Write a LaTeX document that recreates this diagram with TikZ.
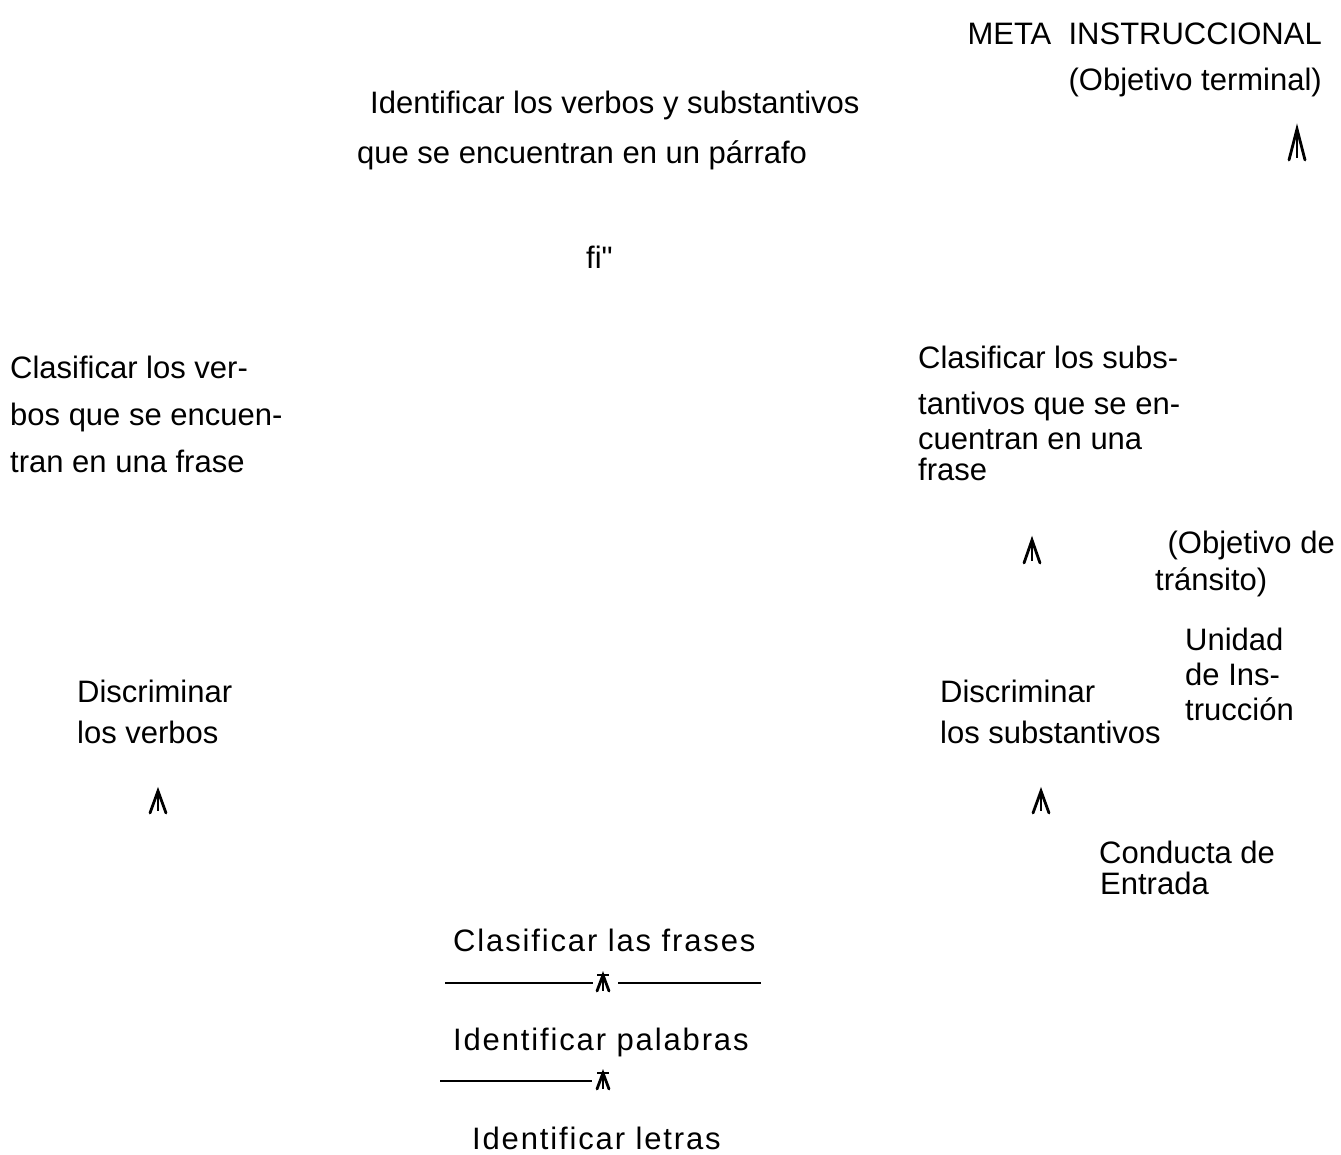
\documentclass[tikz,border=0pt]{standalone}
\usepackage{fontspec}
\setmainfont{Liberation Sans}
\newfontfamily\spaced[LetterSpace=6]{Liberation Sans}
\newfontfamily\nomap{Liberation Sans}
\begin{document}
\begin{tikzpicture}[x=1pt,y=-1pt,
  txt/.style={anchor=base west,inner sep=0pt,font=\fontsize{31}{36}\selectfont},
  txtr/.style={anchor=base east,inner sep=0pt,font=\fontsize{31}{36}\selectfont},
  txts/.style={anchor=base west,inner sep=0pt,font=\spaced\fontsize{31}{36}\selectfont},
  caretline/.style={line width=2.8pt,line cap=round},
  rule/.style={line width=2.2pt}]
\useasboundingbox (0,0) rectangle (1341,1154);
% top right
\node[txtr] (meta) at (1322,44) {META\ \ INSTRUCCIONAL};
\node[txtr] (term) at (1322,90) {(Objetivo terminal)};
% top center
\node[txt] (t1) at (370,113) {Identificar los verbos y substantivos};
\node[txt] (t2) at (357,163) {que se encuentran en un párrafo};
\node[txt] (fi) at (586,268) {{\nomap fi"}};
% left
\node[txt] (cv1) at (10,378) {Clasificar los ver-};
\node[txt] (cv2) at (10,425) {bos que se encuen-};
\node[txt] (cv3) at (10,472) {tran en una frase};
% right
\node[txt] (cs1) at (918,368) {Clasificar los subs-};
\node[txt] (cs2) at (918,414) {tantivos que se en-};
\node[txt] (cs3) at (918,449) {cuentran en una};
\node[txt] (cs4) at (918,480) {frase};
\node[txtr] (ot1) at (1335,553) {(Objetivo de};
\node[txt] (ot2) at (1155,590) {tránsito)};
\node[txt] (ui1) at (1185,650) {Unidad};
\node[txt] (ui2) at (1185,685) {de Ins-};
\node[txt] (ui3) at (1185,720) {trucción};
\node[txt] (ds1) at (940,702) {Discriminar};
\node[txt] (ds2) at (940,743) {los substantivos};
\node[txt] (dv1) at (77,702) {Discriminar};
\node[txt] (dv2) at (77,743) {los verbos};
\node[txt] (ce1) at (1099,863) {Conducta de};
\node[txt] (ce2) at (1100,894) {Entrada};
% bottom
\node[txts] (cf) at (453,951) {Clasificar las frases};
\node[txts] (ip) at (453,1050) {Identificar palabras};
\node[txts] (il) at (472,1149) {Identificar letras};
% rules
\coordinate (r1a) at (445,983); \coordinate (r1b) at (593,983);
\coordinate (r2a) at (618,983); \coordinate (r2b) at (761,983);
\coordinate (r3a) at (440,1081); \coordinate (r3b) at (592,1081);
\draw[rule] (r1a) -- (r1b);
\draw[rule] (r2a) -- (r2b);
\draw[rule] (r3a) -- (r3b);
% arrow marks
\foreach \n/\x/\yt/\yb in {a1/1297/129/160, a2/1032/540/563, a3/158/791/813, a4/1041/791/813}{
  \coordinate (\n t) at (\x,\yt);
  \coordinate (\n b) at (\x,\yb);
  \draw[caretline] ([xshift=-8pt]\n b) -- (\n t) -- ([xshift=8pt]\n b);
  \draw[line width=2pt] (\n t) -- ([yshift=2pt]\n b);
}
\foreach \n/\x/\yt/\yb in {b1/603/975/991, b2/603/1073/1089}{
  \coordinate (\n t) at (\x,\yt);
  \coordinate (\n b) at (\x,\yb);
  \draw[caretline] ([xshift=-6pt]\n b) -- (\n t) -- ([xshift=6pt]\n b);
  \draw[line width=1.8pt] (\n t) -- (\n b);
  \draw[line width=1.8pt] ([xshift=-6pt]\n t) -- ([xshift=6pt]\n t);
}
\end{tikzpicture}
\end{document}
